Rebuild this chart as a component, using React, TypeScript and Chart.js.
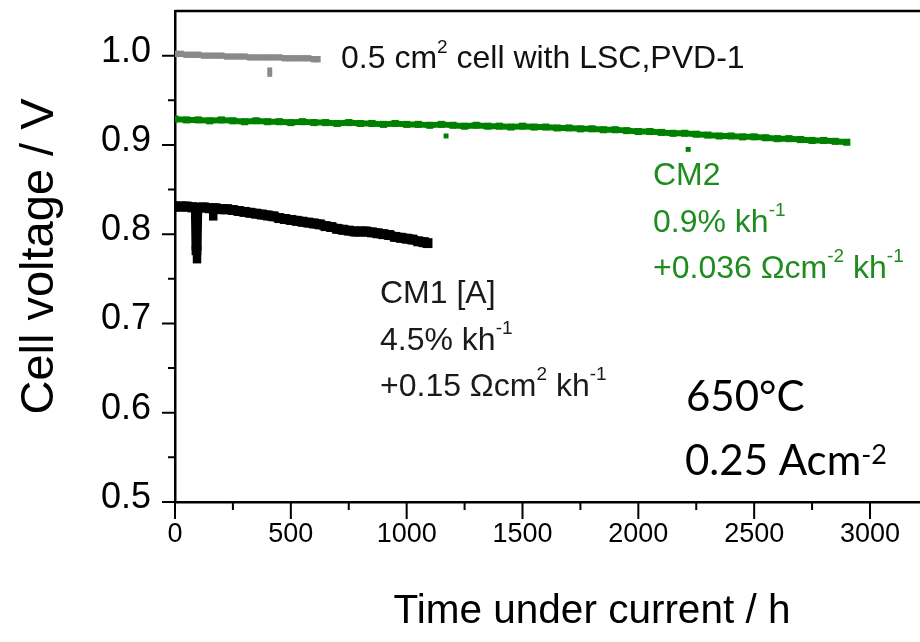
import React, { useEffect, useRef } from 'react';
import { Chart, registerables } from 'chart.js';

Chart.register(...registerables);

const SANS = '"Liberation Sans", Arial, Helvetica, sans-serif';
const CAL = 'Lato, "Open Sans", sans-serif';

// ---- data ----
const refHours = [0, 25, 50, 75, 100, 125, 150, 175, 200, 225, 250, 275, 300, 325, 350, 375, 400, 425, 450, 475, 500, 525, 550, 575, 600, 615];
const refVolts = [1.002, 1.002, 1.001, 1.001, 1.001, 1.000, 1.000, 1.000, 1.000, 0.999, 0.999, 0.999, 0.999, 0.998, 0.998, 0.998, 0.998, 0.998, 0.998, 0.997, 0.997, 0.997, 0.997, 0.997, 0.996, 0.996];
const refOutHours = [409, 409];
const refOutVolts = [0.984, 0.979];

const cm2Hours = [0, 50, 100, 150, 200, 250, 300, 350, 400, 450, 500, 550, 600, 650, 700, 750, 800, 850, 900, 950, 1000, 1050, 1100, 1150, 1200, 1250, 1300, 1350, 1400, 1450, 1500, 1550, 1600, 1650, 1700, 1750, 1800, 1850, 1900, 1950, 2000, 2050, 2100, 2150, 2200, 2250, 2300, 2350, 2400, 2450, 2500, 2550, 2600, 2650, 2700, 2750, 2800, 2850, 2900];
const cm2Volts = [0.929, 0.928, 0.928, 0.927, 0.928, 0.927, 0.926, 0.927, 0.926, 0.926, 0.925, 0.926, 0.925, 0.925, 0.924, 0.925, 0.924, 0.924, 0.923, 0.924, 0.923, 0.923, 0.922, 0.923, 0.922, 0.921, 0.922, 0.921, 0.921, 0.920, 0.921, 0.920, 0.920, 0.919, 0.919, 0.918, 0.918, 0.917, 0.917, 0.916, 0.915, 0.915, 0.914, 0.913, 0.913, 0.912, 0.911, 0.910, 0.910, 0.909, 0.909, 0.908, 0.907, 0.907, 0.906, 0.905, 0.905, 0.904, 0.903];
const cm2OutHours = [1170, 2215];
const cm2OutVolts = [0.910, 0.895];

const cm1Hours = [0, 25, 50, 75, 90, 93, 96, 125, 150, 175, 200, 225, 250, 275, 300, 325, 350, 375, 400, 425, 450, 475, 500, 525, 550, 575, 600, 625, 650, 675, 700, 725, 750, 775, 800, 825, 850, 875, 900, 925, 950, 975, 1000, 1025, 1050, 1075, 1090];
const cm1Volts = [0.831, 0.831, 0.831, 0.830, 0.830, 0.782, 0.829, 0.830, 0.829, 0.829, 0.828, 0.828, 0.827, 0.826, 0.825, 0.824, 0.823, 0.822, 0.821, 0.820, 0.818, 0.817, 0.816, 0.815, 0.814, 0.813, 0.812, 0.811, 0.809, 0.808, 0.806, 0.805, 0.804, 0.803, 0.803, 0.803, 0.802, 0.801, 0.800, 0.799, 0.797, 0.796, 0.795, 0.794, 0.792, 0.791, 0.790];
const cm1OutHours = [95, 165];
const cm1OutVolts = [0.772, 0.820];

const xMajorStep = 500;
const yMajorStep = 0.1;
const xTickLast = 3500;
const yTickLast = 1.0;

// ---- annotation texts ----
type Seg = { t: string; sup?: boolean };
const refLabel: Seg[] = [{ t: '0.5 cm' }, { t: '2', sup: true }, { t: ' cell with LSC,PVD-1' }];
const cm2Label: Seg[][] = [
  [{ t: 'CM2' }],
  [{ t: '0.9% kh' }, { t: '-1', sup: true }],
  [{ t: '+0.036 \u03A9cm' }, { t: '-2', sup: true }, { t: ' kh' }, { t: '-1', sup: true }],
];
const cm1Label: Seg[][] = [
  [{ t: 'CM1 [A]' }],
  [{ t: '4.5% kh' }, { t: '-1', sup: true }],
  [{ t: '+0.15 \u03A9cm' }, { t: '2', sup: true }, { t: ' kh' }, { t: '-1', sup: true }],
];
const condLabel: Seg[][] = [
  [{ t: '650\u00B0C' }],
  [{ t: '0.25 Acm' }, { t: '-2', sup: true }],
];

function drawRich(ctx: CanvasRenderingContext2D, segs: Seg[], x: number, y: number, size: number, family: string, color: string, supSize: number, raise: number) {
  ctx.save();
  ctx.fillStyle = color;
  ctx.textAlign = 'left';
  ctx.textBaseline = 'alphabetic';
  let cx = x;
  for (const s of segs) {
    const fs = s.sup ? supSize : size;
    ctx.font = `${fs}px ${family}`;
    ctx.fillText(s.t, cx, s.sup ? y - raise : y);
    cx += ctx.measureText(s.t).width;
  }
  ctx.restore();
}

const framePlugin = {
  id: 'frameAndTicks',
  afterDraw(chart: any) {
    const { ctx, chartArea, scales } = chart;
    const xs = scales.x;
    const ys = scales.y;
    ctx.save();
    ctx.strokeStyle = '#000';
    ctx.lineWidth = 2;
    ctx.beginPath();
    for (const t of xs.ticks) {
      if (t.value > xTickLast) continue;
      const px = xs.getPixelForValue(t.value);
      const major = Math.abs(t.value / xMajorStep - Math.round(t.value / xMajorStep)) < 1e-6;
      ctx.moveTo(px, chartArea.bottom);
      ctx.lineTo(px, chartArea.bottom + (major ? 17 : 8));
    }
    for (const t of ys.ticks) {
      if (t.value > yTickLast + 1e-6) continue;
      const py = ys.getPixelForValue(t.value);
      const major = Math.abs(t.value / yMajorStep - Math.round(t.value / yMajorStep)) < 1e-6;
      ctx.moveTo(chartArea.left, py);
      ctx.lineTo(chartArea.left - (major ? 13 : 7), py);
    }
    ctx.stroke();
    ctx.lineWidth = 2.5;
    ctx.beginPath();
    ctx.moveTo(chartArea.left, chartArea.top);
    ctx.lineTo(chartArea.right, chartArea.top);
    ctx.stroke();
    ctx.restore();

    drawRich(ctx, refLabel, 341, 68, 32, SANS, '#111', 19, 15);
    cm2Label.forEach((l, i) => drawRich(ctx, l, 653, 185 + i * 46.7, 32, SANS, '#1e8c1e', 19, 16));
    cm1Label.forEach((l, i) => drawRich(ctx, l, 380, 303 + i * 46.7, 32, SANS, '#1a1a1a', 19, 16));
    drawRich(ctx, condLabel[0], 686, 411, 42, CAL, '#000', 26, 12);
    drawRich(ctx, condLabel[1], 685, 475, 42, CAL, '#000', 27, 11);
  },
};

export default function App() {
  const ref = useRef<HTMLCanvasElement | null>(null);
  useEffect(() => {
    if (!ref.current) return;
    const toPts = (h: number[], v: number[]) => h.map((x, i) => ({ x, y: v[i] }));
    const chart = new Chart(ref.current, {
      type: 'scatter',
      data: {
        datasets: [
          { data: toPts(refHours, refVolts), showLine: true, borderColor: '#8a8a8a', backgroundColor: '#8a8a8a', borderWidth: 5, pointStyle: 'rect', pointRadius: 4.5, pointBorderWidth: 0, borderJoinStyle: 'bevel' },
          { data: toPts(refOutHours, refOutVolts), showLine: false, backgroundColor: '#8a8a8a', pointStyle: 'rect', pointRadius: 3.5, pointBorderWidth: 0 },
          { data: toPts(cm2Hours, cm2Volts), showLine: true, borderColor: '#008000', backgroundColor: '#008000', borderWidth: 6, pointStyle: 'rect', pointRadius: 5, pointBorderWidth: 0, borderJoinStyle: 'bevel' },
          { data: toPts(cm2OutHours, cm2OutVolts), showLine: false, backgroundColor: '#008000', pointStyle: 'rect', pointRadius: 3.5, pointBorderWidth: 0 },
          { data: toPts(cm1Hours, cm1Volts), showLine: true, borderColor: '#000', backgroundColor: '#000', borderWidth: 10, pointStyle: 'rect', pointRadius: 7, pointBorderWidth: 0, borderJoinStyle: 'bevel' },
          { data: toPts(cm1OutHours, cm1OutVolts), showLine: false, backgroundColor: '#000', pointStyle: 'rect', pointRadius: 6, pointBorderWidth: 0 },
        ],
      },
      options: {
        responsive: false,
        devicePixelRatio: 1,
        animation: false,
        layout: { padding: { top: 11, right: 1, left: 0, bottom: 0 } },
        plugins: { legend: { display: false }, tooltip: { enabled: false } },
        elements: { point: { hoverRadius: 0 } },
        scales: {
          x: {
            type: 'linear',
            min: 0,
            max: 3600,
            afterFit: (s: any) => { s.height = 140; s.paddingLeft = 0; s.paddingRight = 0; },
            ticks: {
              stepSize: 250,
              autoSkip: false,
              maxRotation: 0,
              padding: 4,
              color: '#000',
              font: { family: SANS, size: 27 },
              callback: (v: any) => (Math.abs(v / xMajorStep - Math.round(v / xMajorStep)) < 1e-6 ? String(v) : ''),
            },
            grid: { display: true, drawOnChartArea: false, drawTicks: true, tickLength: 12, color: 'transparent', tickColor: 'transparent' },
            border: { display: true, color: '#000', width: 2.5 },
            title: { display: true, text: 'Time under current / h', color: '#000', font: { family: SANS, size: 40.5 }, padding: { top: 0, bottom: 6 } },
          },
          y: {
            type: 'linear',
            min: 0.5,
            max: 1.05,
            afterFit: (s: any) => { s.width = 175; s.paddingTop = 0; s.paddingBottom = 0; },
            ticks: {
              stepSize: 0.05,
              autoSkip: false,
              padding: 12,
              labelOffset: -4,
              color: '#000',
              font: { family: SANS, size: 36 },
              callback: (v: any) => (v <= yTickLast + 1e-6 && Math.abs(v / yMajorStep - Math.round(v / yMajorStep)) < 1e-6 ? Number(v).toFixed(1) : ''),
            },
            grid: { display: true, drawOnChartArea: false, drawTicks: true, tickLength: 12, color: 'transparent', tickColor: 'transparent' },
            border: { display: true, color: '#000', width: 2.5 },
            title: { display: true, text: 'Cell voltage / V', color: '#000', font: { family: SANS, size: 47 }, padding: { top: 12, bottom: 0 } },
          },
        },
      },
      plugins: [framePlugin],
    });
    return () => chart.destroy();
  }, []);

  return (
    <div style={{ position: 'fixed', left: 0, top: 0, width: 920, height: 642, overflow: 'hidden', background: '#fff' }}>
      <canvas ref={ref} width={1016} height={642} style={{ width: 1016, height: 642, display: 'block' }} />
    </div>
  );
}
